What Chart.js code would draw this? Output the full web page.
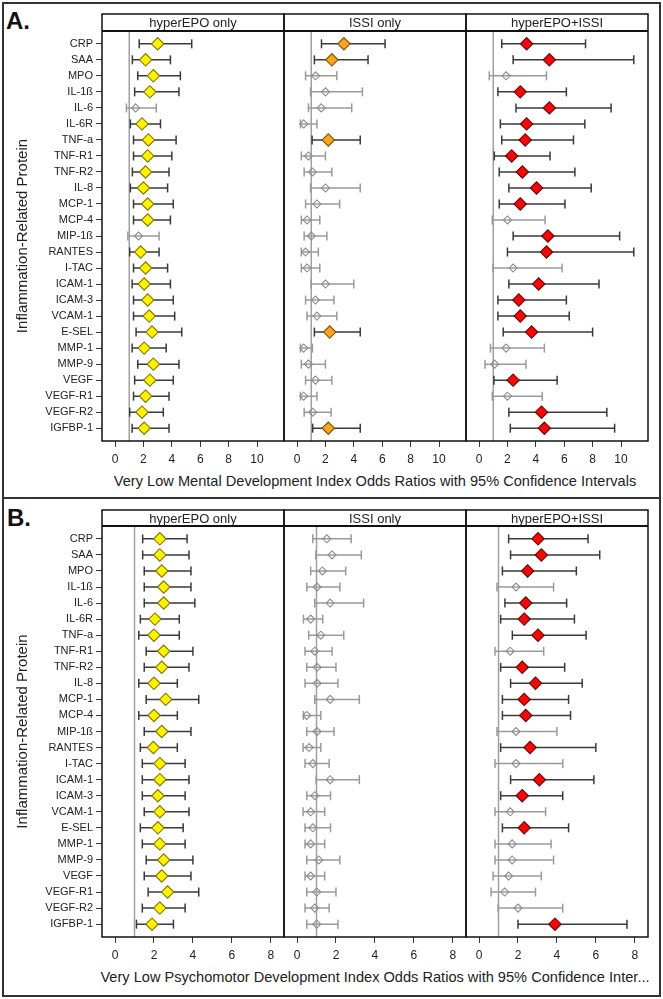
<!DOCTYPE html>
<html>
<head>
<meta charset="utf-8">
<script src="https://cdn.jsdelivr.net/npm/chart.js@4.4.1/dist/chart.umd.min.js"></script>
<style>
  body { margin: 0; background: #fff; font-family: "Liberation Sans", Arial, sans-serif; }
  #page { position: relative; width: 663px; height: 999px; overflow: hidden; background: #fff; }
  .frame { position: absolute; border: 2px solid #333; box-sizing: border-box; }
  .tag { position: absolute; font-weight: bold; font-size: 24px; line-height: 24px; color: #111; }
  .xtitle { position: absolute; left: 92px; width: 566px; font-size: 14.6px; line-height: 16px; color: #222; white-space: nowrap; text-align: center; }
  canvas { position: absolute; }
</style>
</head>
<body>
<div id="page">
  <div class="frame" style="left:2px;top:2px;width:659px;height:497px"></div>
  <div class="frame" style="left:2px;top:497px;width:659px;height:500px"></div>
  <div class="tag" style="left:6px;top:9px">A.</div>
  <div class="tag" style="left:7px;top:506px">B.</div>
  <div class="xtitle" style="top:473px;left:102px;width:546px">Very Low Mental Development Index Odds Ratios with 95% Confidence Intervals</div>
  <div class="xtitle" style="top:969px">Very Low Psychomotor Development Index Odds Ratios with 95% Confidence Inter...</div>
</div>
<script>
// Proteins, top to bottom
const proteins = ['CRP', 'SAA', 'MPO', 'IL-1ß', 'IL-6', 'IL-6R', 'TNF-a', 'TNF-R1', 'TNF-R2', 'IL-8',
  'MCP-1', 'MCP-4', 'MIP-1ß', 'RANTES', 'I-TAC', 'ICAM-1', 'ICAM-3', 'VCAM-1', 'E-SEL',
  'MMP-1', 'MMP-9', 'VEGF', 'VEGF-R1', 'VEGF-R2', 'IGFBP-1'];

const facetTitles = ['hyperEPO only', 'ISSI only', 'hyperEPO+ISSI'];

// [odds ratio, lower 95% CI, upper 95% CI] per protein
// A. very low Mental Development Index
const mdiHyperEpo = [
  [3.0, 1.7, 5.4], [2.15, 1.22, 3.9], [2.7, 1.6, 4.6], [2.45, 1.38, 4.5], [1.45, 0.8, 2.9],
  [1.9, 1.08, 3.2], [2.35, 1.3, 4.3], [2.3, 1.3, 4.0], [2.15, 1.22, 3.8], [2.0, 1.08, 3.7],
  [2.3, 1.3, 4.1], [2.3, 1.3, 3.9], [1.65, 0.9, 3.1], [1.8, 1.03, 3.1], [2.15, 1.3, 3.7],
  [2.05, 1.2, 3.9], [2.3, 1.3, 4.1], [2.4, 1.3, 4.2], [2.6, 1.48, 4.7], [2.05, 1.2, 3.6],
  [2.7, 1.6, 4.5], [2.45, 1.38, 4.1], [2.15, 1.3, 3.8], [1.9, 1.03, 3.4], [2.05, 1.2, 3.8]
];
const mdiIssi = [
  [3.3, 1.72, 6.2], [2.45, 1.22, 5.0], [1.3, 0.6, 2.8], [2.0, 0.95, 4.6], [1.7, 0.8, 3.85],
  [0.47, 0.24, 1.4], [2.2, 1.06, 4.45], [0.8, 0.3, 2.0], [1.08, 0.5, 2.45], [2.0, 0.95, 4.45],
  [1.4, 0.6, 3.0], [0.7, 0.3, 1.6], [1.0, 0.5, 2.1], [0.6, 0.3, 1.5], [0.7, 0.3, 1.6],
  [2.0, 0.98, 4.0], [1.3, 0.6, 2.6], [1.4, 0.7, 2.8], [2.3, 1.22, 4.45], [0.47, 0.24, 1.08],
  [0.8, 0.3, 2.0], [1.3, 0.6, 2.45], [0.47, 0.24, 1.4], [1.1, 0.5, 2.4], [2.2, 1.1, 4.45]
];
const mdiBoth = [
  [3.35, 1.6, 7.5], [4.95, 2.4, 10.9], [1.9, 0.72, 4.75], [2.9, 1.33, 6.15], [4.95, 2.6, 9.3],
  [3.35, 1.5, 7.45], [3.25, 1.6, 6.65], [2.3, 1.07, 5.0], [3.05, 1.42, 6.75], [4.05, 2.1, 7.9],
  [2.9, 1.42, 6.05], [2.0, 0.93, 4.65], [4.85, 2.4, 9.9], [4.75, 2.0, 10.9], [2.4, 0.98, 5.85],
  [4.2, 2.1, 8.45], [2.8, 1.33, 6.15], [2.9, 1.33, 6.35], [3.7, 1.7, 8.0], [1.9, 0.8, 4.6],
  [1.1, 0.42, 3.3], [2.4, 1.05, 5.5], [2.0, 0.93, 4.45], [4.4, 2.1, 9.0], [4.6, 2.2, 9.55]
];
// B. very low Psychomotor Development Index
const pdiHyperEpo = [
  [2.3, 1.42, 3.7], [2.3, 1.42, 3.8], [2.4, 1.5, 3.9], [2.5, 1.5, 3.9], [2.5, 1.5, 4.1],
  [2.05, 1.3, 3.3], [2.0, 1.22, 3.3], [2.5, 1.6, 4.0], [2.4, 1.5, 3.8], [2.0, 1.22, 3.2],
  [2.6, 1.6, 4.3], [2.0, 1.22, 3.2], [2.4, 1.5, 3.9], [1.97, 1.3, 3.2], [2.3, 1.4, 3.6],
  [2.3, 1.4, 3.8], [2.2, 1.4, 3.6], [2.3, 1.5, 3.8], [2.2, 1.3, 3.5], [2.3, 1.4, 3.6],
  [2.5, 1.6, 4.0], [2.4, 1.5, 3.9], [2.7, 1.7, 4.3], [2.3, 1.4, 3.6], [1.9, 1.1, 3.0]
];
const pdiIssi = [
  [1.53, 0.81, 2.78], [1.8, 0.96, 3.3], [1.3, 0.7, 2.5], [1.03, 0.5, 2.2], [1.7, 0.91, 3.42],
  [0.7, 0.33, 1.32], [1.22, 0.6, 2.4], [0.91, 0.41, 1.8], [1.03, 0.5, 2.0], [1.03, 0.41, 2.1],
  [1.7, 0.91, 3.2], [0.5, 0.33, 1.22], [1.03, 0.5, 1.9], [0.62, 0.31, 1.22], [0.81, 0.41, 1.65],
  [1.7, 0.98, 3.2], [0.91, 0.5, 1.72], [0.7, 0.31, 1.42], [0.81, 0.41, 1.72], [0.7, 0.41, 1.42],
  [1.12, 0.5, 2.2], [0.7, 0.41, 1.42], [1.01, 0.5, 2.0], [0.91, 0.41, 1.65], [1.01, 0.5, 2.1]
];
const pdiBoth = [
  [3.03, 1.52, 5.6], [3.2, 1.62, 6.2], [2.5, 1.2, 5.0], [1.9, 0.92, 3.83], [2.4, 1.33, 4.5],
  [2.32, 1.11, 4.9], [3.03, 1.71, 5.5], [1.6, 0.82, 3.32], [2.22, 1.11, 4.4], [2.9, 1.62, 5.3],
  [2.32, 1.2, 4.6], [2.4, 1.2, 4.7], [1.9, 0.92, 4.0], [2.62, 1.11, 6.0], [1.9, 0.82, 4.3],
  [3.1, 1.62, 5.9], [2.22, 1.11, 4.3], [1.6, 0.82, 3.42], [2.32, 1.2, 4.6], [1.7, 0.82, 3.7],
  [1.7, 0.82, 3.83], [1.52, 0.72, 3.2], [1.32, 0.62, 2.9], [2.0, 0.98, 4.3], [3.9, 2.0, 7.6]
];

const mdiTicks = [0, 2, 4, 6, 8, 10];
const pdiTicks = [0, 2, 4, 6, 8];
const REF_ODDS = 1;

// styles
const fills = ['#FFF200', '#F7A41E', '#F00A0A'];
const edges = ['#7F7500', '#7F4F00', '#700000'];
const SIG_LINE = '#3a3a3a';
const NS_LINE = '#9a9a9a';

const FACET_X = [[102, 284], [284, 466], [466, 648]];
const Y_MIN = -0.8, Y_MAX = 24.8;
const X_AXIS_H = 24;

const panels = [
  { rows: [mdiHyperEpo, mdiIssi, mdiBoth], ticks: mdiTicks, xMin: -0.92, xMax: 11.9, headTop: 14, top: 31, bottom: 441 },
  { rows: [pdiHyperEpo, pdiIssi, pdiBoth], ticks: pdiTicks, xMin: -0.67, xMax: 8.68, headTop: 510, top: 526, bottom: 937 }
];

// frame + header strip of a facet
const facetFrame = {
  id: 'facetFrame',
  afterDraw(chart, args, opts) {
    const { left, right, top, bottom } = chart.chartArea;
    const ctx = chart.ctx;
    const hTop = top - opts.headH;
    ctx.save();
    ctx.strokeStyle = '#111';
    ctx.lineWidth = 1.5;
    ctx.strokeRect(left, hTop, right - left, bottom - hTop);
    ctx.lineWidth = 2;
    ctx.beginPath();
    ctx.moveTo(left, top);
    ctx.lineTo(right, top);
    ctx.stroke();
    ctx.fillStyle = '#222';
    ctx.font = '13px "Liberation Sans", Arial, sans-serif';
    ctx.textAlign = 'center';
    ctx.textBaseline = 'middle';
    ctx.fillText(opts.label, (left + right) / 2, hTop + opts.headH / 2 + 1);
    ctx.restore();
  }
};

const isSig = r => r[1] > REF_ODDS;

function barPoints(rows, sig) {
  const pts = [];
  rows.forEach((r, i) => {
    if (isSig(r) !== sig) return;
    pts.push({ x: r[1], y: i }, { x: r[2], y: i }, { x: null, y: null });
  });
  return pts;
}

function makeFacet(panel, k) {
  const rows = panel.rows[k];
  const isLeft = k === 0;
  const [ax0, ax1] = FACET_X[k];
  const cLeft = isLeft ? 0 : ax0 - 2;
  const cRight = ax1 + 2;
  const cTop = panel.headTop - 2;
  const cBottom = panel.bottom + X_AXIS_H;
  const padTop = panel.top - cTop;

  const canvas = document.createElement('canvas');
  canvas.width = cRight - cLeft;
  canvas.height = cBottom - cTop;
  canvas.style.left = cLeft + 'px';
  canvas.style.top = cTop + 'px';
  document.getElementById('page').appendChild(canvas);

  const caps = [];
  rows.forEach((r, i) => { caps.push({ x: r[1], y: i, s: isSig(r) }, { x: r[2], y: i, s: isSig(r) }); });

  new Chart(canvas.getContext('2d'), {
    type: 'scatter',
    data: {
      datasets: [
        {
          // estimates
          data: rows.map((r, i) => ({ x: r[0], y: i })),
          pointStyle: 'rectRot',
          pointRadius: ctx => isSig(rows[ctx.dataIndex]) ? 6.2 : 4,
          pointBackgroundColor: ctx => isSig(rows[ctx.dataIndex]) ? fills[k] : 'rgba(0,0,0,0)',
          pointBorderColor: ctx => isSig(rows[ctx.dataIndex]) ? edges[k] : '#8c8c8c',
          pointBorderWidth: 1.1,
          order: 0
        },
        {
          // CI end caps
          data: caps,
          pointStyle: 'line',
          rotation: 90,
          pointRadius: 4.5,
          pointBorderWidth: 1.5,
          pointBorderColor: ctx => caps[ctx.dataIndex].s ? SIG_LINE : NS_LINE,
          order: 1
        },
        {
          data: barPoints(rows, true),
          showLine: true, pointRadius: 0, borderColor: SIG_LINE, borderWidth: 1.5, spanGaps: false,
          order: 2
        },
        {
          data: barPoints(rows, false),
          showLine: true, pointRadius: 0, borderColor: NS_LINE, borderWidth: 1.5, spanGaps: false,
          order: 3
        },
        {
          // reference line, OR = 1
          data: [{ x: REF_ODDS, y: Y_MIN }, { x: REF_ODDS, y: Y_MAX }],
          showLine: true, pointRadius: 0, borderColor: '#a0a0a0', borderWidth: 1.5,
          order: 4
        }
      ]
    },
    options: {
      animation: false,
      responsive: false,
      devicePixelRatio: 1,
      events: [],
      layout: { autoPadding: false, padding: { top: padTop, left: isLeft ? 0 : 2, right: 2, bottom: 0 } },
      plugins: {
        legend: { display: false },
        tooltip: { enabled: false },
        facetFrame: { label: facetTitles[k], headH: panel.top - panel.headTop }
      },
      scales: {
        x: {
          type: 'linear',
          min: panel.xMin,
          max: panel.xMax,
          afterBuildTicks: s => { s.ticks = panel.ticks.map(v => ({ value: v })); },
          afterFit: s => { s.height = X_AXIS_H; s.paddingLeft = 0; s.paddingRight = 0; },
          grid: { drawOnChartArea: false, tickLength: 6, color: '#333', lineWidth: 1 },
          border: { display: false },
          ticks: { font: { size: 12, family: '"Liberation Sans", Arial, sans-serif' }, color: '#222', padding: 5, maxRotation: 0, autoSkip: false }
        },
        y: {
          type: 'linear',
          reverse: true,
          min: Y_MIN,
          max: Y_MAX,
          display: isLeft,
          afterBuildTicks: s => { s.ticks = proteins.map((_, i) => ({ value: i })); },
          afterFit: s => { if (isLeft) s.width = ax0 - cLeft; s.paddingTop = 0; s.paddingBottom = 0; },
          grid: { drawOnChartArea: false, tickLength: 6, color: '#333', lineWidth: 1 },
          border: { display: false },
          ticks: {
            callback: v => proteins[v],
            font: { size: 11, family: '"Liberation Sans", Arial, sans-serif' },
            color: '#222',
            padding: 3,
            autoSkip: false
          },
          title: {
            display: true,
            text: 'Inflammation-Related Protein',
            font: { size: 15, family: '"Liberation Sans", Arial, sans-serif' },
            color: '#222',
            padding: { top: 14, bottom: 0 }
          }
        }
      }
    },
    plugins: [facetFrame]
  });
}

panels.forEach(p => [0, 1, 2].forEach(k => makeFacet(p, k)));
</script>
</body>
</html>
